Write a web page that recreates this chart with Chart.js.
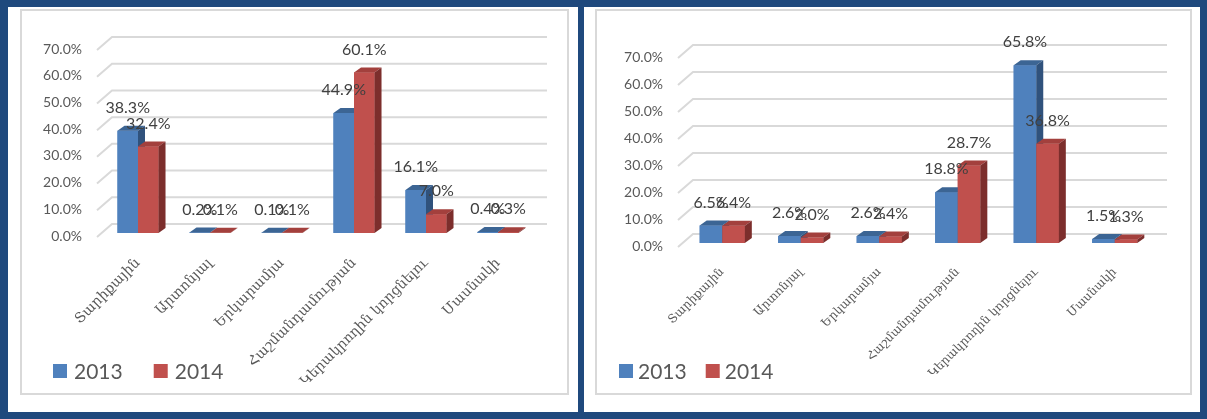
<!DOCTYPE html>
<html>
<head>
<meta charset="utf-8">
<script src="https://cdn.jsdelivr.net/npm/chart.js@4.4.0/dist/chart.umd.min.js"></script>
<style>
  html, body { margin: 0; padding: 0; }
  body { width: 1207px; height: 419px; background: #1f497d; position: relative; overflow: hidden; }
  .panel { position: absolute; background: #fff; }
  .frame { position: absolute; border: 2px solid #d9d9d9; box-sizing: border-box; }
  canvas { position: absolute; left: 0; top: 0; }
</style>
</head>
<body>
<div class="panel" style="left:8px;top:7px;width:570px;height:405px"></div>
<div class="panel" style="left:584px;top:7px;width:616px;height:405px"></div>
<div class="frame" style="left:20px;top:9px;width:549px;height:386px"></div>
<div class="frame" style="left:595px;top:9px;width:597px;height:386px"></div>
<div style="position:absolute;left:8px;top:7px;width:570px;height:405px">
  <canvas id="chartLeft" width="570" height="405"></canvas>
</div>
<div style="position:absolute;left:584px;top:7px;width:616px;height:405px">
  <canvas id="chartRight" width="616" height="405"></canvas>
</div>
<script>
const categories = ['Տարիքային', 'Արտոնյալ', 'Երկարամյա', 'Հաշմանդամության', 'Կերակրողին կորցնելու', 'Մասնակի'];
const years = ['2013', '2014'];

// left panel
const left2013 = [38.3, 0.2, 0.1, 44.9, 16.1, 0.4];
const left2014 = [32.4, 0.1, 0.1, 60.1, 7.0, 0.3];

// right panel
const right2013 = [6.5, 2.6, 2.6, 18.8, 65.8, 1.5];
const right2014 = [6.4, 2.0, 2.4, 28.7, 36.8, 1.3];

const yMax = 70;
const yStep = 10;

const NUM_FONT = 'Lato, "Open Sans", sans-serif';
const ARM_FONT = '"DejaVu Serif", "DejaVu Sans", serif';

// front / top / side shades for the 3D boxes
const palette = [
  { front: '#4f81bd', top: '#3c6594', side: '#30527c' },
  { front: '#c0504d', top: '#a3403d', side: '#7c2e2c' }
];

const pct = v => v.toFixed(1) + '%';

// back-wall grid: diagonal from the axis up to the wall, then across
const wallGrid = {
  id: 'wallGrid',
  beforeDatasetsDraw(chart) {
    const { ctx, chartArea: a, scales: { y } } = chart;
    ctx.save();
    ctx.strokeStyle = '#d9d9d9';
    ctx.lineWidth = 2;
    y.ticks.forEach(t => {
      const py = y.getPixelForValue(t.value);
      ctx.beginPath();
      ctx.moveTo(a.left - 5, py + 4);
      ctx.lineTo(a.left + 10, py - 9);
      ctx.lineTo(a.right + 13, py - 9);
      ctx.stroke();
    });
    ctx.restore();
  }
};

// depth faces on every bar, then the value labels
const boxes = {
  id: 'boxes',
  afterDatasetsDraw(chart) {
    const { ctx } = chart;
    const dx = 7, dy = 5;
    const metas = chart.data.datasets.map((_, i) => chart.getDatasetMeta(i));
    ctx.save();
    for (let i = 0; i < chart.data.labels.length; i++) {
      metas.forEach((meta, d) => {
        const bar = meta.data[i];
        const c = palette[d];
        const l = bar.x - bar.width / 2, r = bar.x + bar.width / 2;
        const t = bar.y, b = bar.base;
        ctx.fillStyle = c.front;
        ctx.fillRect(l, t, r - l, b - t);
        ctx.fillStyle = c.top;
        ctx.beginPath();
        ctx.moveTo(l, t); ctx.lineTo(l + dx, t - dy); ctx.lineTo(r + dx, t - dy); ctx.lineTo(r, t);
        ctx.closePath(); ctx.fill();
        ctx.fillStyle = c.side;
        ctx.beginPath();
        ctx.moveTo(r, t); ctx.lineTo(r + dx, t - dy); ctx.lineTo(r + dx, b - dy); ctx.lineTo(r, b);
        ctx.closePath(); ctx.fill();
      });
    }
    ctx.font = '16px ' + NUM_FONT;
    ctx.fillStyle = '#404040';
    ctx.textAlign = 'center';
    ctx.textBaseline = 'middle';
    metas.forEach((meta, d) => {
      meta.data.forEach((bar, i) => {
        ctx.fillText(pct(chart.data.datasets[d].data[i]), bar.x, bar.y - 23);
      });
    });
    ctx.restore();
  }
};

// legend row in the lower-left corner
const legendRow = {
  id: 'legendRow',
  afterDraw(chart, args, opts) {
    const { ctx } = chart;
    ctx.save();
    ctx.font = '21px ' + NUM_FONT;
    ctx.textBaseline = 'middle';
    let x = opts.x;
    chart.data.datasets.forEach((ds, d) => {
      ctx.fillStyle = palette[d].front;
      ctx.fillRect(x, opts.y - 7, 14, 14);
      x += 14 + opts.textGap;
      ctx.fillStyle = '#595959';
      ctx.fillText(ds.label, x, opts.y + 1);
      x += ctx.measureText(ds.label).width + opts.itemGap;
    });
    ctx.restore();
  }
};

function build(id, s2013, s2014, geo) {
  return new Chart(document.getElementById(id), {
    type: 'bar',
    data: {
      labels: categories,
      datasets: [
        { label: years[0], data: s2013, backgroundColor: palette[0].front },
        { label: years[1], data: s2014, backgroundColor: palette[1].front }
      ]
    },
    options: {
      responsive: false,
      animation: false,
      events: [],
      categoryPercentage: geo.catPct,
      barPercentage: 1,
      layout: { padding: { top: geo.top, right: geo.right, left: 0, bottom: 0 } },
      scales: {
        x: {
          grid: { display: false, drawTicks: false },
          border: { display: false },
          ticks: {
            autoSkip: false, minRotation: 45, maxRotation: 45, padding: 22,
            color: '#595959', font: { family: ARM_FONT, size: geo.catFont }
          },
          afterFit(s) { s.height = geo.xHeight; s.paddingLeft = 0; s.paddingRight = 0; }
        },
        y: {
          min: 0, max: yMax,
          grid: { display: false, drawTicks: false },
          border: { display: false },
          ticks: {
            stepSize: yStep, padding: 20, labelOffset: 3,
            color: '#595959', font: { family: NUM_FONT, size: 14 },
            callback: v => pct(v)
          },
          afterFit(s) { s.width = geo.yWidth; }
        }
      },
      plugins: {
        legend: { display: false },
        tooltip: { enabled: false },
        legendRow: geo.legend
      }
    },
    plugins: [wallGrid, boxes, legendRow]
  });
}

build('chartLeft', left2013, left2014, {
  catPct: 0.57, top: 39, right: 44, yWidth: 94, xHeight: 179, catFont: 14,
  legend: { x: 45, y: 364, textGap: 7, itemGap: 31 }
});

build('chartRight', right2013, right2014, {
  catPct: 0.575, top: 47, right: 46, yWidth: 99, xHeight: 169, catFont: 12,
  legend: { x: 35, y: 364, textGap: 5, itemGap: 19 }
});
</script>
</body>
</html>
